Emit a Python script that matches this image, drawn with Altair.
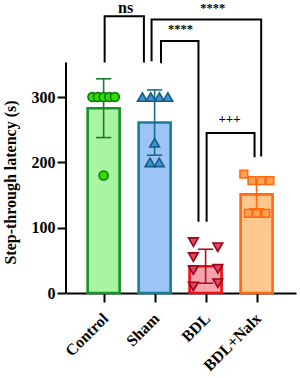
import altair as alt
import pandas as pd

groups = ["Control", "Sham", "BDL", "BDL+Nalx"]
means = [283, 261, 41, 151]
sds = [45, 50, 26, 22]
bar_fill = ["#a8f4a0", "#9cc4f6", "#f7a3ab", "#ffc790"]
bar_stroke = ["#16922a", "#167e98", "#f20a14", "#ff6a10"]
pt_fill = ["#30df00", "#3f90e0", "#d94a5a", "#ffa252"]
pt_stroke = ["#0d740f", "#145e7c", "#a0001c", "#ff6a10"]
err_color = ["#1f7a2a", "#1a6e8a", "#b01020", "#ff6a10"]
shapes = ["circle", "triangle-up", "triangle-down", "square"]
pt_sizes = [80, 95, 95, 60]

control_vals = [300, 300, 300, 300, 300, 180]
control_jit = [-0.22, -0.11, 0.0, 0.11, 0.22, 0.0]
sham_vals = [300, 300, 300, 300, 230, 200, 200]
sham_jit = [-0.24, -0.075, 0.094, 0.26, 0.0, -0.09, 0.09]
bdl_vals = [78, 70, 55, 35, 37, 10, 15]
bdl_jit = [-0.24, 0.24, -0.24, -0.24, 0.24, -0.24, 0.24]
nalx_vals = [182, 172, 172, 172, 122, 122, 122]
nalx_jit = [-0.25, -0.09, 0.09, 0.26, -0.16, 0.0, 0.18]

# significance brackets: left x, left bottom, top, right x, right bottom
br_names = ["ns", "outer", "inner", "plus"]
br_x1 = [0.02, 0.94, 1.125, 2.02]
br_x2 = [0.79, 3.09, 1.86, 2.96]
br_y1 = [353, 355, 352, 109]
br_top = [424, 419, 386, 245]
br_y2 = [353, 209, 109, 208]
sig_text = ["ns", "****", "****", "+++"]
sig_x = [0.43, 2.14, 1.51, 2.47]
sig_y = [437, 437, 404, 266]
sig_size = [16, 12.5, 12.5, 13]

Y_MAX = 448.7
X_MIN, X_MAX = -0.64, 3.675
FONT = "Liberation Serif"

bars = pd.DataFrame({"g": groups, "i": range(4), "mean": means, "sd": sds,
                     "fill": bar_fill, "stroke": bar_stroke, "err": err_color})

rows = []
for i, (vals, jit) in enumerate([(control_vals, control_jit), (sham_vals, sham_jit),
                                  (bdl_vals, bdl_jit), (nalx_vals, nalx_jit)]):
    for v, j in zip(vals, jit):
        rows.append({"g": groups[i], "x": i + j, "v": v})
pts = pd.DataFrame(rows)

br_rows = []
for k in range(4):
    seq = [(br_x1[k], br_y1[k]), (br_x1[k], br_top[k]), (br_x2[k], br_top[k]), (br_x2[k], br_y2[k])]
    for o, (xx, yy) in enumerate(seq):
        br_rows.append({"b": br_names[k], "o": o, "x": xx, "y": yy})
br = pd.DataFrame(br_rows)

xs = alt.Scale(domain=[X_MIN, X_MAX], nice=False, zero=False)
ys = alt.Scale(domain=[0, Y_MAX], nice=False)

label_expr = "datum.value == 0 ? 'Control' : datum.value == 1 ? 'Sham' : datum.value == 2 ? 'BDL' : 'BDL+Nalx'"

base_bars = alt.Chart(bars)

bar_layer = base_bars.mark_bar(size=32, strokeWidth=2.6).encode(
    x=alt.X("i:Q", scale=xs, axis=alt.Axis(values=[0, 1, 2, 3], labelExpr=label_expr,
                                           labelAngle=315, labelAlign="right", labelBaseline="top",
                                           labelFont=FONT, labelFontWeight="bold", labelFontSize=16,
                                           labelColor="black", tickSize=9, tickWidth=2, tickColor="black",
                                           domainColor="black", domainWidth=2, grid=False, title=None,
                                           labelPadding=8, labelOffset=-4,
                                           labelOverlap=False, labelBound=False)),
    y=alt.Y("mean:Q", scale=ys, axis=alt.Axis(values=[0, 100, 200, 300], domain=False, grid=False,
                                              labelFont=FONT, labelFontWeight="bold", labelFontSize=16,
                                              labelColor="black", tickSize=9, tickWidth=2, tickColor="black",
                                              labelPadding=2,
                                              title="Step-through latency (s)", titleFont=FONT,
                                              titleFontWeight="bold", titleFontSize=16, titleColor="black",
                                              titleX=-48, titleY=182, titleBaseline="bottom")),
    fill=alt.Fill("fill:N", scale=None),
    stroke=alt.Stroke("stroke:N", scale=None),
)

err_line = base_bars.transform_calculate(lo="datum.mean - datum.sd", hi="datum.mean + datum.sd").mark_rule(strokeWidth=1.6).encode(
    x=alt.X("i:Q", scale=xs), y=alt.Y("lo:Q", scale=ys), y2="hi:Q",
    color=alt.Color("err:N", scale=None))
err_top = base_bars.transform_calculate(hi="datum.mean + datum.sd", a="datum.i - 0.15", b="datum.i + 0.15").mark_rule(strokeWidth=1.6).encode(
    x=alt.X("a:Q", scale=xs), x2="b:Q", y=alt.Y("hi:Q", scale=ys),
    color=alt.Color("err:N", scale=None))
err_bot = base_bars.transform_calculate(lo="datum.mean - datum.sd", a="datum.i - 0.15", b="datum.i + 0.15").mark_rule(strokeWidth=1.6).encode(
    x=alt.X("a:Q", scale=xs), x2="b:Q", y=alt.Y("lo:Q", scale=ys),
    color=alt.Color("err:N", scale=None))

point_layers = []
for i, g in enumerate(groups):
    point_layers.append(
        alt.Chart(pts).transform_filter(alt.datum.g == g).mark_point(
            shape=shapes[i], size=pt_sizes[i], filled=True, fill=pt_fill[i], stroke=pt_stroke[i],
            strokeWidth=1.6, opacity=1).encode(
            x=alt.X("x:Q", scale=xs), y=alt.Y("v:Q", scale=ys))
    )

yaxis_line = alt.Chart(pd.DataFrame({"a": [0], "b": [353]})).mark_rule(color="black", strokeWidth=2).encode(
    x=alt.value(0), y=alt.Y("a:Q", scale=ys), y2="b:Q")

bracket = alt.Chart(br).mark_line(color="black", strokeWidth=2, strokeJoin="miter").encode(
    x=alt.X("x:Q", scale=xs), y=alt.Y("y:Q", scale=ys), detail="b:N", order="o:Q")

text_layers = []
for k in range(len(sig_text)):
    text_layers.append(
        alt.Chart(pd.DataFrame({"t": [sig_text[k]], "x": [sig_x[k]], "y": [sig_y[k]]})).mark_text(
            font=FONT, fontWeight="bold", color="#000000", fontSize=sig_size[k], baseline="middle").encode(
            x=alt.X("x:Q", scale=xs), y=alt.Y("y:Q", scale=ys), text="t:N")
    )

chart = alt.layer(bar_layer, err_line, err_top, err_bot, *point_layers, yaxis_line, bracket, *text_layers).properties(
    width=230, height=293,
    autosize=alt.AutoSizeParams(type="none"),
    padding={"left": 66, "top": 0, "right": 4, "bottom": 85},
    background="white",
).configure_view(stroke=None)

chart.save("out.html", embed_options={"renderer": "svg", "actions": False})
